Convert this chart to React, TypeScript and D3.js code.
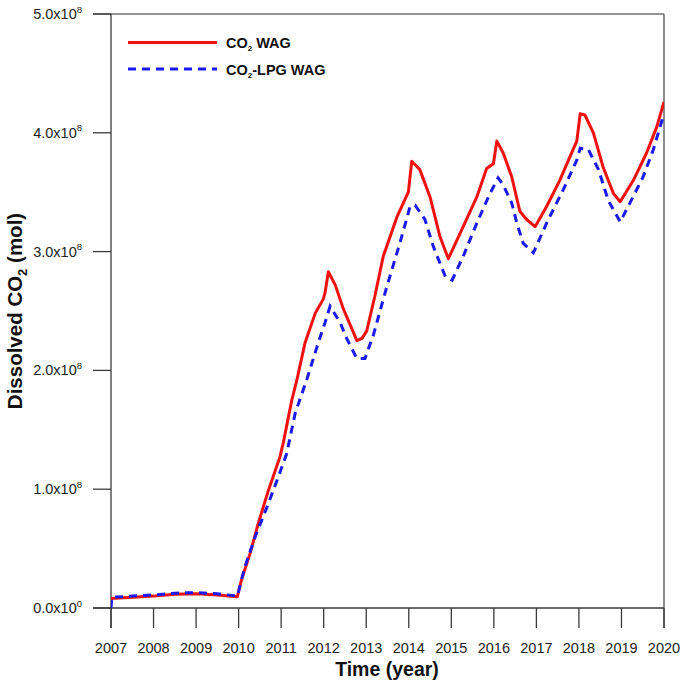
import React from "react";
import * as d3 from "d3";

const W = 685;
const H = 687;

const yearTicks = [2007, 2008, 2009, 2010, 2011, 2012, 2013, 2014, 2015, 2016, 2017, 2018, 2019, 2020];
const yTickValues = [0, 1, 2, 3, 4, 5];
const yTickMantissa = ["0.0", "1.0", "2.0", "3.0", "4.0", "5.0"];
const yTickExponent = ["0", "8", "8", "8", "8", "8"];

// values in units of 1e8 mol
const co2Years = [2007.0, 2007.5, 2008.0, 2008.5, 2009.0, 2009.5, 2009.97, 2010.07, 2010.27, 2010.46, 2010.7, 2010.97, 2011.05, 2011.25, 2011.37, 2011.56, 2011.8, 2011.99, 2012.03, 2012.11, 2012.27, 2012.46, 2012.78, 2012.9, 2013.01, 2013.2, 2013.4, 2013.72, 2013.99, 2014.07, 2014.26, 2014.5, 2014.73, 2014.93, 2015.28, 2015.6, 2015.83, 2015.99, 2016.07, 2016.22, 2016.42, 2016.61, 2016.77, 2016.97, 2017.24, 2017.55, 2017.79, 2017.95, 2018.03, 2018.14, 2018.34, 2018.57, 2018.81, 2018.97, 2019.28, 2019.59, 2019.83, 2020.0];
const co2Values = [0.08, 0.09, 0.1, 0.115, 0.12, 0.11, 0.095, 0.24, 0.46, 0.71, 0.99, 1.27, 1.39, 1.75, 1.92, 2.23, 2.48, 2.6, 2.65, 2.83, 2.72, 2.52, 2.25, 2.27, 2.33, 2.62, 2.96, 3.29, 3.5, 3.76, 3.69, 3.46, 3.13, 2.94, 3.21, 3.46, 3.7, 3.74, 3.93, 3.83, 3.63, 3.34, 3.27, 3.21, 3.38, 3.6, 3.8, 3.93, 4.16, 4.15, 4.0, 3.71, 3.49, 3.42, 3.6, 3.83, 4.05, 4.26];

const lpgYears = [2007.0, 2007.02, 2007.5, 2008.0, 2008.5, 2009.0, 2009.5, 2009.97, 2010.15, 2010.39, 2010.7, 2010.93, 2011.13, 2011.33, 2011.6, 2011.87, 2012.03, 2012.15, 2012.39, 2012.54, 2012.78, 2012.97, 2013.17, 2013.48, 2013.79, 2014.03, 2014.15, 2014.38, 2014.58, 2014.86, 2015.02, 2015.28, 2015.6, 2015.91, 2016.1, 2016.22, 2016.42, 2016.54, 2016.69, 2016.93, 2017.24, 2017.63, 2017.95, 2018.03, 2018.22, 2018.46, 2018.69, 2018.97, 2019.2, 2019.51, 2019.75, 2020.0];
const lpgValues = [0.0, 0.09, 0.1, 0.11, 0.125, 0.13, 0.12, 0.1, 0.35, 0.6, 0.88, 1.1, 1.3, 1.64, 1.92, 2.23, 2.4, 2.54, 2.4, 2.27, 2.1, 2.1, 2.3, 2.7, 3.07, 3.38, 3.39, 3.27, 3.04, 2.79, 2.76, 2.96, 3.24, 3.49, 3.62, 3.56, 3.41, 3.24, 3.07, 2.99, 3.24, 3.52, 3.77, 3.87, 3.86, 3.69, 3.43, 3.25, 3.41, 3.63, 3.86, 4.16];

const left = 111;
const right = 664;
const top = 14;
const bottom = 608;

export default function App() {
  const x = d3.scaleLinear().domain([2007, 2020]).range([left, right]);
  const y = d3.scaleLinear().domain([0, 5]).range([bottom, top]);
  const lineGen = d3
    .line<[number, number]>()
    .x((d) => x(d[0]))
    .y((d) => y(d[1]))
    .curve(d3.curveLinear);
  const co2 = co2Years.map((t, i) => [t, co2Values[i]] as [number, number]);
  const lpg = lpgYears.map((t, i) => [t, lpgValues[i]] as [number, number]);
  const font = "Liberation Sans, Arial, sans-serif";
  const axisColor = "#3a3a3a";
  const frameColor = "#707070";

  return (
    <svg
      width={W}
      height={H}
      style={{ position: "absolute", left: 0, top: 0, background: "#fff" }}
      fontFamily={font}
    >
      <rect x={0} y={0} width={W} height={H} fill="#fff" />
      <defs>
        <clipPath id="plotclip">
          <rect x={left} y={top} width={right - left} height={bottom - top} />
        </clipPath>
      </defs>
      {/* frame */}
      <line x1={left - 18} x2={right} y1={top} y2={top} stroke={frameColor} strokeWidth={1.3} />
      <line x1={right} x2={right} y1={top} y2={bottom + 20} stroke={frameColor} strokeWidth={1.6} />
      {/* axes */}
      <line x1={left} x2={left} y1={top} y2={bottom + 20} stroke={axisColor} strokeWidth={1.3} />
      <line x1={left - 18} x2={right} y1={bottom} y2={bottom} stroke={axisColor} strokeWidth={1.3} />
      {yTickValues.map((v, i) => (
        <g key={"y" + v}>
          <line x1={left - 18} x2={left} y1={y(v)} y2={y(v)} stroke={axisColor} strokeWidth={1.3} />
          <text x={82} y={y(v) + 5} textAnchor="end" fontSize={14.5} fill="#222">
            {yTickMantissa[i]}x10
            <tspan fontSize={9.5} dy={-6.5}>
              {yTickExponent[i]}
            </tspan>
          </text>
        </g>
      ))}
      {yearTicks.map((t) => (
        <g key={"x" + t}>
          <line x1={x(t)} x2={x(t)} y1={bottom} y2={bottom + 20} stroke={axisColor} strokeWidth={1.3} />
          <text x={x(t)} y={653} textAnchor="middle" fontSize={14.5} fill="#222">
            {t}
          </text>
        </g>
      ))}
      <text x={387} y={676} textAnchor="middle" fontSize={19.5} fontWeight="bold" fill="#111">
        Time (year)
      </text>
      <text
        transform={`translate(22,${(top + bottom) / 2}) rotate(-90)`}
        textAnchor="middle"
        fontSize={20.5}
        fontWeight="bold"
        fill="#111"
      >
        Dissolved CO
        <tspan fontSize={13} dy={5}>2</tspan>
        <tspan dy={-5}> (mol)</tspan>
      </text>
      <g clipPath="url(#plotclip)">
        <path d={lineGen(co2) || ""} fill="none" stroke="#f01010" strokeWidth={3} strokeLinejoin="round" />
        <path
          d={lineGen(lpg) || ""}
          fill="none"
          stroke="#1a1aee"
          strokeWidth={3}
          strokeDasharray="8,6"
        />
      </g>
      {/* legend */}
      <line x1={128} x2={217} y1={42.5} y2={42.5} stroke="#f01010" strokeWidth={3} />
      <line x1={128} x2={217} y1={69} y2={69} stroke="#1a1aee" strokeWidth={3} strokeDasharray="8,6" />
      <text x={226} y={48} fontSize={14.5} fontWeight="bold" fill="#111">
        CO<tspan fontSize={8} dy={3}>2</tspan>
        <tspan dy={-3}> WAG</tspan>
      </text>
      <text x={226} y={74.5} fontSize={14.5} fontWeight="bold" fill="#111">
        CO<tspan fontSize={8} dy={3}>2</tspan>
        <tspan dy={-3}>-LPG WAG</tspan>
      </text>
    </svg>
  );
}
